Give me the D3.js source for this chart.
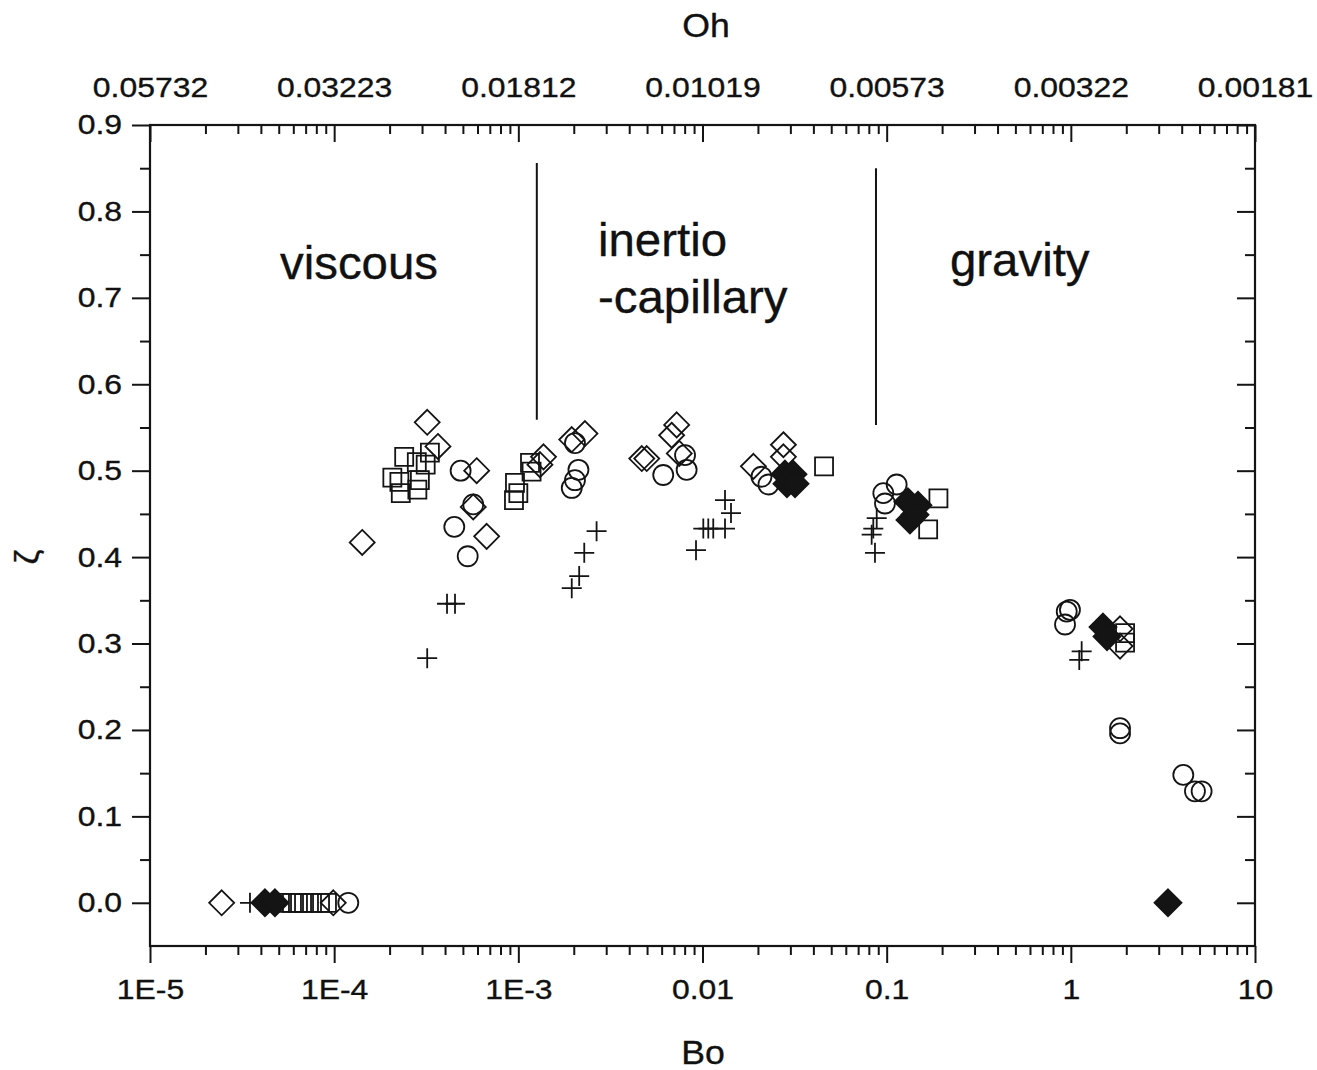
<!DOCTYPE html>
<html>
<head>
<meta charset="utf-8">
<script src="https://cdn.jsdelivr.net/npm/d3@7"></script>
<style>
  body { margin: 0; background: #fff; }
  svg text { font-family: "Liberation Sans", Arial, Helvetica, sans-serif; fill: #111; stroke: #111; stroke-width: 0.35px; }
</style>
</head>
<body>
<svg id="chart" width="1317" height="1070"></svg>
<script>
// ---- data: Bond number (Bo) vs. ζ for each marker series ----
const openDiamondBo   = [2.45e-5, 9.89e-5, 1.42e-4, 3.20e-4, 3.66e-4, 5.94e-4, 5.69e-4, 6.73e-4, 1.37e-3, 1.31e-3, 2.30e-3, 1.95e-3, 4.98e-3, 4.68e-3, 7.24e-3, 6.80e-3, 7.48e-3, 0.0189, 0.0275, 0.0275, 1.85, 1.85];
const openDiamondZeta = [0, 0, 0.417, 0.556, 0.528, 0.500, 0.458, 0.424, 0.516, 0.507, 0.543, 0.536, 0.514, 0.514, 0.553, 0.541, 0.520, 0.505, 0.530, 0.516, 0.317, 0.297];

const squareBo   = [5.21e-5, 5.90e-5, 6.36e-5, 6.86e-5, 7.58e-5, 8.38e-5, 9.14e-5, 2.40e-4, 3.31e-4, 3.14e-4, 2.81e-4, 2.07e-4, 2.26e-4, 2.92e-4, 2.83e-4, 2.30e-4, 1.157e-3, 1.18e-3, 9.59e-4, 1.0e-3, 9.47e-4, 0.0457, 0.191, 0.168, 1.97, 1.97];
const squareZeta = [0, 0, 0, 0, 0, 0, 0, 0.516, 0.521, 0.507, 0.510, 0.492, 0.487, 0.489, 0.478, 0.474, 0.509, 0.499, 0.486, 0.474, 0.466, 0.505, 0.468, 0.432, 0.312, 0.301];

const circleBo   = [1.193e-4, 4.86e-4, 5.69e-4, 4.49e-4, 5.31e-4, 2.03e-3, 2.12e-3, 2.03e-3, 1.95e-3, 6.12e-3, 8.04e-3, 8.20e-3, 0.0209, 0.0228, 0.0959, 0.1133, 0.0979, 0.950, 0.989, 0.930, 1.85, 1.85, 4.08, 4.72, 5.13];
const circleZeta = [0, 0.500, 0.461, 0.435, 0.401, 0.532, 0.501, 0.489, 0.480, 0.495, 0.518, 0.501, 0.493, 0.484, 0.474, 0.484, 0.462, 0.337, 0.339, 0.322, 0.202, 0.196, 0.148, 0.129, 0.129];

const plusBo   = [3.49e-5, 3.20e-4, 4.10e-4, 4.53e-4, 2.66e-3, 2.28e-3, 2.14e-3, 1.95e-3, 0.01325, 0.01428, 0.01075, 0.01144, 0.01010, 0.01325, 9.22e-3, 0.0883, 0.0846, 0.0829, 0.0864, 1.145, 1.111];
const plusZeta = [0, 0.283, 0.346, 0.346, 0.430, 0.405, 0.378, 0.364, 0.466, 0.451, 0.433, 0.433, 0.433, 0.433, 0.408, 0.445, 0.433, 0.426, 0.405, 0.291, 0.281];

const filledDiamondBo   = [4.21e-5, 4.77e-5, 0.02804, 0.0310, 0.02875, 0.0318, 0.1305, 0.1479, 0.1338, 0.1425, 1.495, 1.572, 3.37];
const filledDiamondZeta = [0, 0, 0.496, 0.496, 0.485, 0.485, 0.464, 0.460, 0.443, 0.449, 0.319, 0.308, 0];

// regime boundaries (Bo) and their vertical extent in ζ
const regimeBoundaryBo = [1.26e-3, 0.0875];
const regimeBoundaryTop = [0.856, 0.850];
const regimeBoundaryBottom = [0.559, 0.553];

// axis ticks
const boTicks = [1e-5, 1e-4, 1e-3, 1e-2, 1e-1, 1, 10];
const boTickLabels = ["1E-5", "1E-4", "1E-3", "0.01", "0.1", "1", "10"];
const ohTickLabels = ["0.05732", "0.03223", "0.01812", "0.01019", "0.00573", "0.00322", "0.00181"];
const zetaTicks = [0, 0.1, 0.2, 0.3, 0.4, 0.5, 0.6, 0.7, 0.8, 0.9];
const zetaMinorTicks = [0.05, 0.15, 0.25, 0.35, 0.45, 0.55, 0.65, 0.75, 0.85];

// ---- layout ----
const svg = d3.select("#chart");
const plotLeft = 150, plotRight = 1255, plotTop = 125, plotBottom = 946;
const ink = "#141414";

const x = d3.scaleLog().domain([1e-5, 10]).range([plotLeft, plotRight]);
const y = d3.scaleLinear().domain([-0.05, 0.9]).range([plotBottom, plotTop]);

const boMinor = [];
for (let e = -5; e < 1; e++) for (let m = 2; m <= 9; m++) boMinor.push(m * Math.pow(10, e));

function styleAxis(g) {
  g.select(".domain").remove();
  g.selectAll(".tick line").attr("stroke", ink).attr("stroke-width", 2);
  g.selectAll(".tick text").attr("fill", ink);
}

// horizontally widened tick text
function widen(g, sx) {
  g.selectAll(".tick text").each(function () {
    const t = d3.select(this);
    const tx = +t.attr("x") || 0;
    t.attr("x", tx / sx).attr("transform", `scale(${sx},1)`);
  });
}

const tickFont = 28;
const tickStretch = 1.14;

// bottom axis: Bo (ticks outward)
const gB = svg.append("g").attr("transform", `translate(0,${plotBottom})`)
  .call(d3.axisBottom(x).tickValues(boTicks).tickSize(17).tickPadding(16)
    .tickFormat((d, i) => boTickLabels[i]))
  .call(styleAxis);
gB.attr("font-size", tickFont).attr("font-family", null);
widen(gB, tickStretch);
svg.append("g").attr("transform", `translate(0,${plotBottom})`)
  .call(d3.axisBottom(x).tickValues(boMinor).tickSize(9).tickFormat(""))
  .call(styleAxis);

// top axis: Oh (ticks inward, labels above)
svg.append("g").attr("transform", `translate(0,${plotTop})`)
  .call(d3.axisBottom(x).tickValues(boTicks).tickSize(17).tickFormat(""))
  .call(styleAxis);
svg.append("g").attr("transform", `translate(0,${plotTop})`)
  .call(d3.axisBottom(x).tickValues(boMinor).tickSize(9).tickFormat(""))
  .call(styleAxis);
const gT = svg.append("g").attr("transform", `translate(0,${plotTop})`)
  .call(d3.axisTop(x).tickValues(boTicks).tickSize(0).tickPadding(28)
    .tickFormat((d, i) => ohTickLabels[i]))
  .call(styleAxis);
gT.attr("font-size", tickFont).attr("font-family", null);
widen(gT, tickStretch);

// left axis: ζ (ticks outward)
const gL = svg.append("g").attr("transform", `translate(${plotLeft},0)`)
  .call(d3.axisLeft(y).tickValues(zetaTicks).tickSize(18).tickPadding(10)
    .tickFormat(d3.format(".1f")))
  .call(styleAxis);
gL.attr("font-size", tickFont).attr("font-family", null);
widen(gL, tickStretch);
svg.append("g").attr("transform", `translate(${plotLeft},0)`)
  .call(d3.axisLeft(y).tickValues(zetaMinorTicks).tickSize(10).tickFormat(""))
  .call(styleAxis);

// right axis: ticks inward
svg.append("g").attr("transform", `translate(${plotRight},0)`)
  .call(d3.axisLeft(y).tickValues(zetaTicks).tickSize(18).tickFormat(""))
  .call(styleAxis);
svg.append("g").attr("transform", `translate(${plotRight},0)`)
  .call(d3.axisLeft(y).tickValues(zetaMinorTicks).tickSize(10).tickFormat(""))
  .call(styleAxis);

// frame
svg.append("rect").attr("x", plotLeft).attr("y", plotTop)
  .attr("width", plotRight - plotLeft).attr("height", plotBottom - plotTop)
  .attr("fill", "none").attr("stroke", ink).attr("stroke-width", 2.2);

// axis titles
svg.append("text").attr("x", 706).attr("y", 37).attr("text-anchor", "middle")
  .attr("font-size", 33).attr("transform", "translate(706,0) scale(1.08,1) translate(-706,0)").text("Oh");
svg.append("text").attr("x", 703).attr("y", 1064).attr("text-anchor", "middle")
  .attr("font-size", 33).attr("transform", "translate(703,0) scale(1.08,1) translate(-703,0)").text("Bo");
svg.append("text").attr("transform", "translate(38,557) rotate(-90)")
  .attr("text-anchor", "middle").attr("font-size", 34).text("ζ");

// regime boundaries
svg.append("g").selectAll("line").data(regimeBoundaryBo).join("line")
  .attr("x1", d => x(d)).attr("x2", d => x(d))
  .attr("y1", (d, i) => y(regimeBoundaryTop[i]))
  .attr("y2", (d, i) => y(regimeBoundaryBottom[i]))
  .attr("stroke", ink).attr("stroke-width", 2);

// regime labels
const regimeFont = 46;
const regimeStretch = 1.03;
function label(txt, px, py, anchor) {
  svg.append("text").attr("x", px / regimeStretch).attr("y", py).attr("text-anchor", anchor)
    .attr("transform", `scale(${regimeStretch},1)`)
    .attr("font-size", regimeFont).text(txt);
}
label("viscous", 359, 279, "middle");
label("inertio", 598, 256, "start");
label("-capillary", 598, 313, "start");
label("gravity", 950, 276, "start");

// ---- markers ----
const markerG = svg.append("g");
const pts = (bo, z) => bo.map((b, i) => [x(b), y(z[i])]);

function drawSeries(points, pathFn, fill) {
  markerG.append("g").selectAll("path").data(points).join("path")
    .attr("d", d => pathFn(d[0], d[1]))
    .attr("fill", fill).attr("stroke", ink).attr("stroke-width", 1.8);
}
const diamond = r => (cx, cy) => `M${cx},${cy - r}L${cx + r},${cy}L${cx},${cy + r}L${cx - r},${cy}Z`;
const square = h => (cx, cy) => `M${cx - h},${cy - h}H${cx + h}V${cy + h}H${cx - h}Z`;
const circle = r => (cx, cy) => `M${cx - r},${cy}A${r},${r} 0 1,0 ${cx + r},${cy}A${r},${r} 0 1,0 ${cx - r},${cy}Z`;
const plus = h => (cx, cy) => `M${cx - h},${cy}H${cx + h}M${cx},${cy - h}V${cy + h}`;

drawSeries(pts(plusBo, plusZeta), plus(10), "none");
drawSeries(pts(squareBo, squareZeta), square(9), "none");
drawSeries(pts(circleBo, circleZeta), circle(10), "none");
drawSeries(pts(openDiamondBo, openDiamondZeta), diamond(12.5), "none");
drawSeries(pts(filledDiamondBo, filledDiamondZeta), diamond(13.5), ink);
</script>
</body>
</html>
